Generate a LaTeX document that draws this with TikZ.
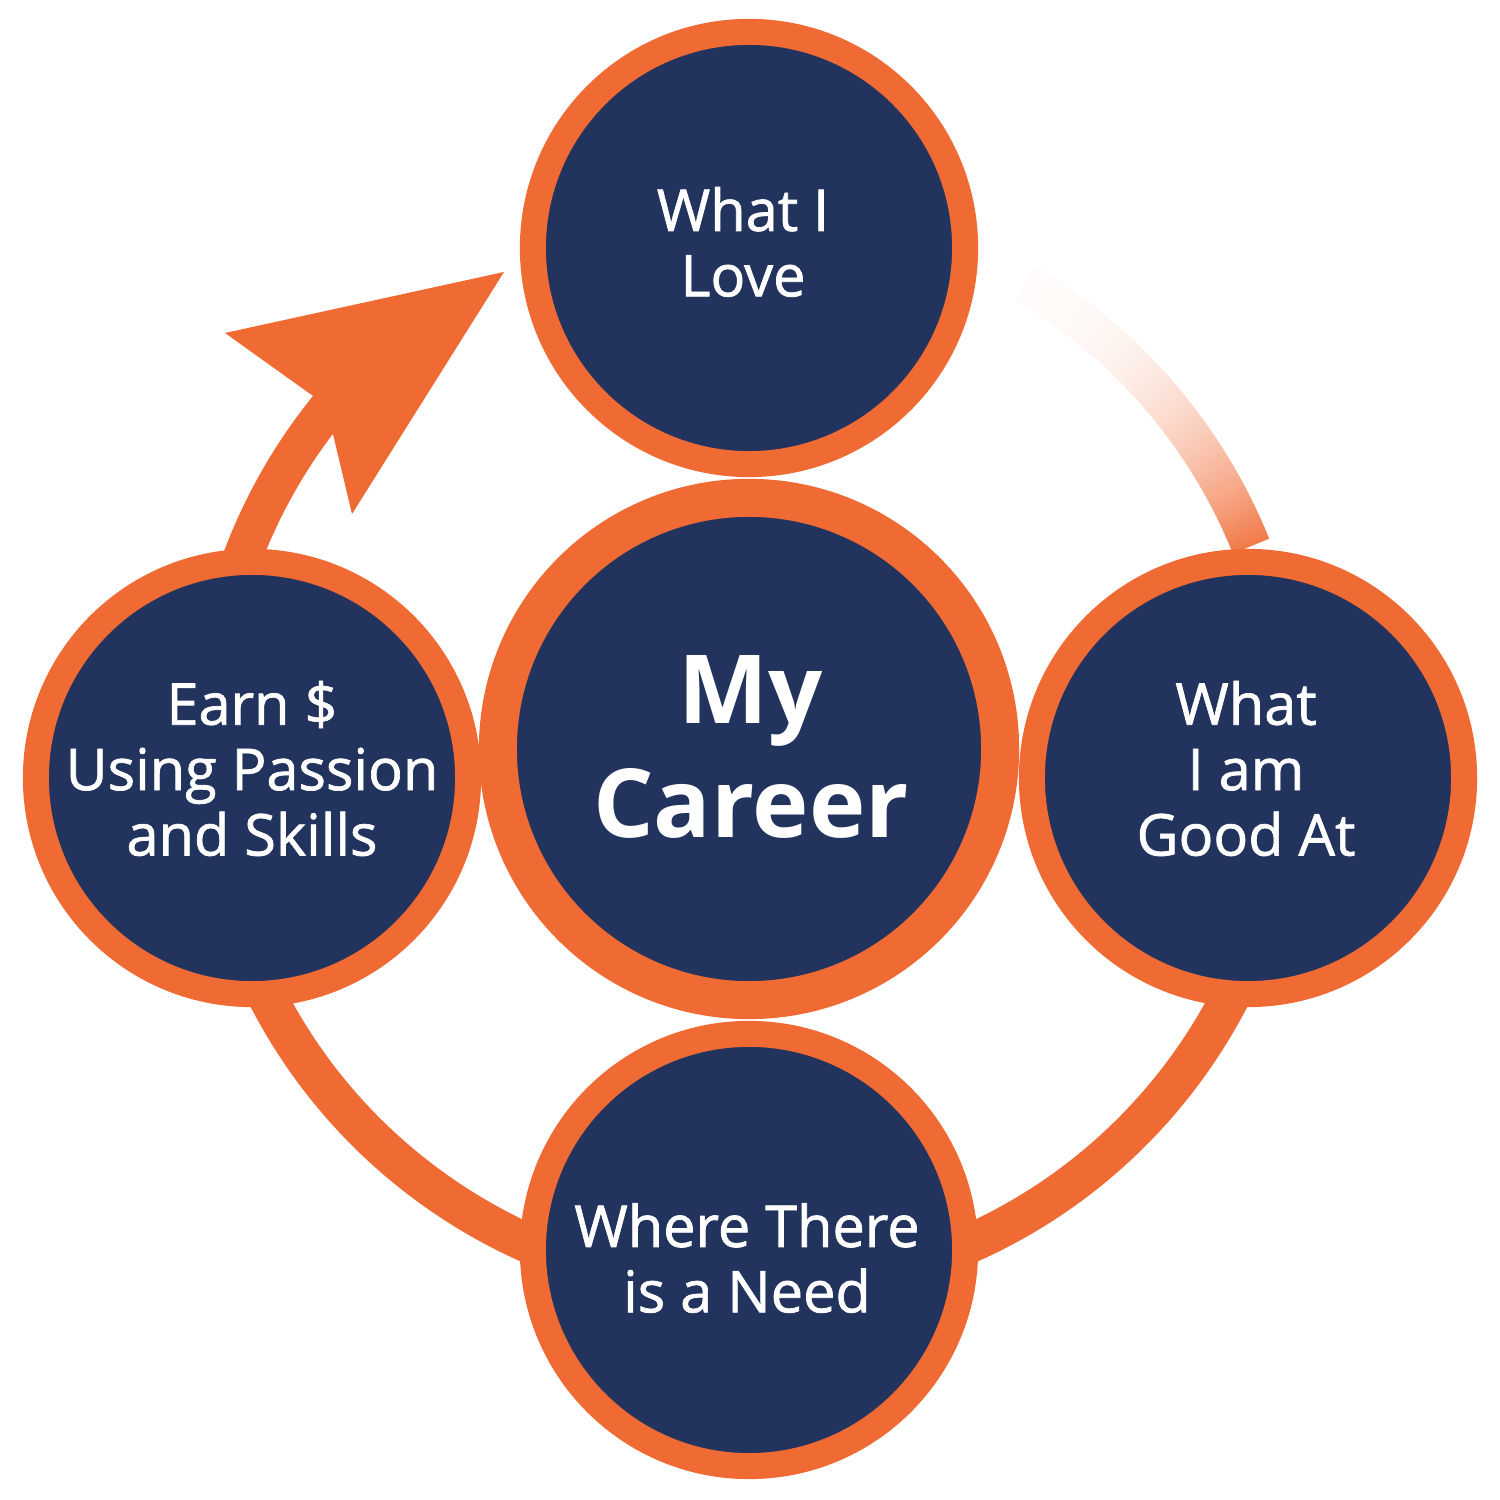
\documentclass[tikz,border=0pt]{standalone}
\usepackage{fontspec}
\setmainfont{Open Sans}
\IfFontExistsTF{Open Sans SemiBold}{\newfontfamily\semi{Open Sans SemiBold}}{\newfontfamily\semi{Open Sans}[FakeBold=1.2]}
\usetikzlibrary{calc}
\definecolor{corange}{RGB}{240,106,51}
\definecolor{cnavy}{RGB}{34,52,94}
\begin{document}
\begin{tikzpicture}[x=0.01cm,y=0.01cm,
  ring/.style={circle,fill=cnavy,draw=corange,inner sep=0pt},
  small/.style={ring,minimum size=4.32cm,line width=0.26cm},
  lbl/.style={text=white,align=center,inner sep=0pt,font=\semi\fontsize{16.4}{18.6}\selectfont},
  big/.style={text=white,align=center,inner sep=0pt,font=\bfseries\fontsize{27.1}{32.4}\selectfont}]
\fill[white] (0,0) rectangle (1500,1500);
\useasboundingbox (0,0) rectangle (1500,1500);
\coordinate (C) at (749,751);
% ring with arrow
\fill[corange] ($(C)+(141:561)$) -- (225,1167) -- (504,1228) -- (352,986) -- ($(C)+(142.86:522)$)
  arc[start angle=142.86,end angle=370,radius=522] -- ($(C)+(370:561)$)
  arc[start angle=370,end angle=141,radius=561] -- cycle;
% fading arc
\foreach \a in {22,22.5,...,58.5}{
  \pgfmathsetmacro\p{2.5+86*((59-\a)/37)^2.4}
  \draw[corange!\p!white,line width=0.39cm] ($(C)+(\a:541.5)$) arc[start angle=\a,delta angle=0.8,radius=541.5];
}
% circles
\node[ring,minimum size=5.02cm,line width=0.38cm] (career) at (749,751) {};
\node[small] (love) at (749,1252) {};
\node[small] (earn) at (252,722) {};
\node[small] (good) at (1248,722) {};
\node[small] (need) at (749,250) {};
% labels
\node[big] (tcareer) at (751,753.5) {My\\Career};
\node[lbl] (tlove) at (743,1258) {What I\\Love};
\node[lbl] (tearn) at (252,731.5) {Earn \$\\Using Passion\\and Skills};
\node[lbl] (tgood) at (1246,731.5) {What\\I am\\Good At};
\node[lbl] (tneed) at (747,242) {Where There\\is a Need};
\end{tikzpicture}
\end{document}
